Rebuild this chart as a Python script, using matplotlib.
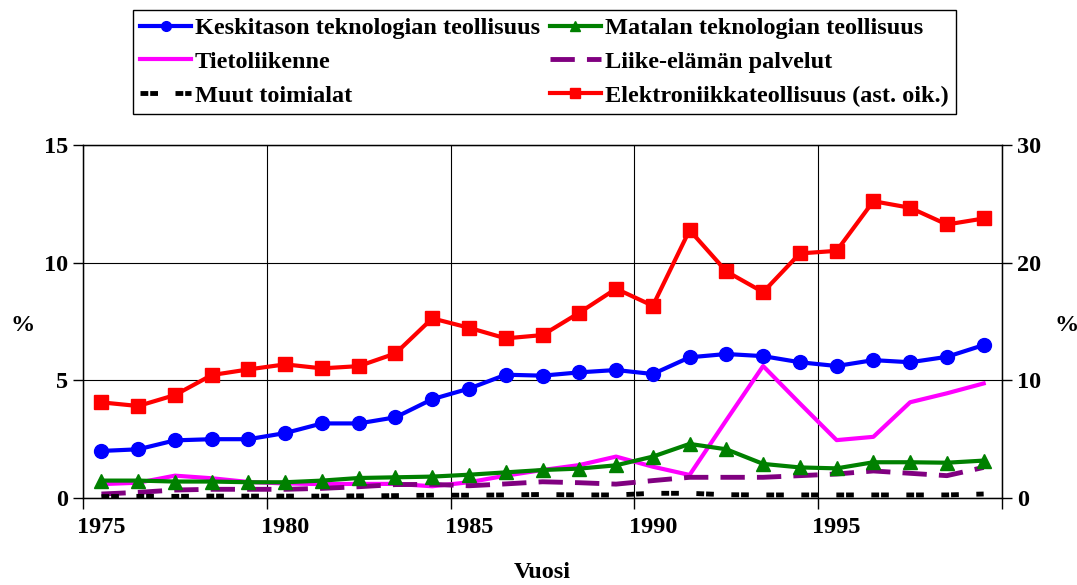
import numpy as np
import matplotlib
matplotlib.use("Agg")
from matplotlib import pyplot as plt

years = list(range(1975, 2000))

keskitaso = [2.0, 2.07, 2.45, 2.5, 2.5, 2.76, 3.17, 3.17, 3.43, 4.2, 4.65, 5.24, 5.2,
             5.34, 5.44, 5.27, 5.98, 6.12, 6.03, 5.77, 5.61, 5.86, 5.77, 6.0, 6.5]
matala = [0.74, 0.74, 0.7, 0.7, 0.67, 0.67, 0.74, 0.85, 0.88, 0.91, 0.99, 1.09, 1.19,
          1.25, 1.39, 1.76, 2.3, 2.07, 1.45, 1.3, 1.26, 1.52, 1.52, 1.5, 1.59]
tietoliikenne = [0.59, 0.65, 0.95, 0.84, 0.68, 0.62, 0.59, 0.6, 0.6, 0.5, 0.67, 0.95, 1.19,
                 1.4, 1.76, 1.33, 0.98, 3.31, 5.61, 4.02, 2.46, 2.6, 4.07, 4.45, 4.87]
liike = [0.17, 0.24, 0.34, 0.37, 0.37, 0.37, 0.41, 0.48, 0.57, 0.58, 0.52, 0.6, 0.69,
         0.65, 0.59, 0.74, 0.88, 0.88, 0.88, 0.95, 1.02, 1.15, 1.05, 0.95, 1.3]
muut = [0.06, 0.07, 0.07, 0.08, 0.08, 0.08, 0.08, 0.09, 0.1, 0.12, 0.12, 0.13, 0.15,
        0.13, 0.13, 0.2, 0.2, 0.14, 0.13, 0.13, 0.13, 0.13, 0.13, 0.13, 0.17]
elektroniikka = [8.13, 7.82, 8.75, 10.45, 10.93, 11.36, 11.02, 11.21, 12.29, 15.27, 14.47,
                 13.57, 13.85, 15.75, 17.79, 16.34, 22.77, 19.26, 17.5, 20.79, 21.01,
                 25.23, 24.67, 23.25, 23.76]

labels = ["Keskitason teknologian teollisuus", "Matalan teknologian teollisuus",
          "Tietoliikenne", "Liike-elämän palvelut", "Muut toimialat",
          "Elektroniikkateollisuus (ast. oik.)"]

plt.rcParams['font.family'] = ['Liberation Serif', 'DejaVu Serif']
plt.rcParams['font.weight'] = 'bold'
fs = 17.5

fig = plt.figure(figsize=(10.77, 5.85), dpi=100)
ax = fig.add_axes([0.0771, 0.1487, 0.8533, 0.6033])
ax2 = ax.twinx()

x = np.arange(len(years)) + 0.5

l_tieto, = ax.plot(x, tietoliikenne, color='#ff00ff', lw=3, zorder=3)
l_liike, = ax.plot(x, liike, color='#800080', lw=3.5, dashes=[5, 2.5], zorder=3)
l_muut, = ax.plot(x, muut, color='black', lw=3.5, dashes=[1.6, 0.4, 1.6, 3.6], zorder=3)
l_matala, = ax.plot(x, matala, color='#008000', lw=3, marker='^', ms=10, zorder=4)
l_kesk, = ax.plot(x, keskitaso, color='#0000ff', lw=3, marker='o', ms=10, zorder=5)
l_elek, = ax2.plot(x, elektroniikka, color='#ff0000', lw=3, marker='s', ms=10, zorder=5)

ax.set_xlim(0, 25)
ax.set_ylim(0, 15)
ax2.set_ylim(0, 30)
ax.set_yticks([0, 5, 10, 15])
ax2.set_yticks([0, 10, 20, 30])

ax.set_xticks(np.arange(0, 26, 5))
ax.set_xticklabels([])
ax.set_xticks(np.arange(0, 25, 5) + 0.5, minor=True)
ax.set_xticklabels([str(years[i]) for i in range(0, 25, 5)], minor=True)
ax.tick_params(axis='x', which='minor', length=0, pad=14, labelsize=fs)
ax.tick_params(axis='x', which='major', length=8, width=1, direction='out')
ax.tick_params(axis='y', length=7, width=1, direction='out', labelsize=fs, pad=4)
ax2.tick_params(axis='y', length=7, width=1, direction='out', labelsize=fs, pad=4)

ax.grid(True, which='major', color='black', lw=0.8)
for s in ax.spines.values():
    s.set_linewidth(1)

ax.set_ylabel('%', rotation=0, fontsize=fs, fontweight='bold', va='center', ha='center')
ax.yaxis.set_label_coords(-0.066, 0.49)
ax2.set_ylabel('%', rotation=0, fontsize=fs, fontweight='bold', va='center', ha='center')
ax2.yaxis.set_label_coords(1.07, 0.49)
ax.set_xlabel('Vuosi', fontsize=fs, fontweight='bold')
ax.xaxis.set_label_coords(0.5, -0.18)

handles = [l_kesk, l_tieto, l_muut, l_matala, l_liike, l_elek]
hlabels = [labels[0], labels[2], labels[4], labels[1], labels[3], labels[5]]
leg = fig.legend(handles, hlabels, ncol=2, loc='upper left',
                 bbox_to_anchor=(0.1235, 0.983),
                 prop={'weight': 'bold', 'size': fs},
                 fancybox=False, edgecolor='black', framealpha=1,
                 handlelength=2.1, handletextpad=0.15, columnspacing=0.4,
                 labelspacing=0.48, borderpad=0.3, borderaxespad=0,
                 markerscale=0.7)
leg.get_frame().set_linewidth(1)

fig.savefig('out.png', dpi=100)
